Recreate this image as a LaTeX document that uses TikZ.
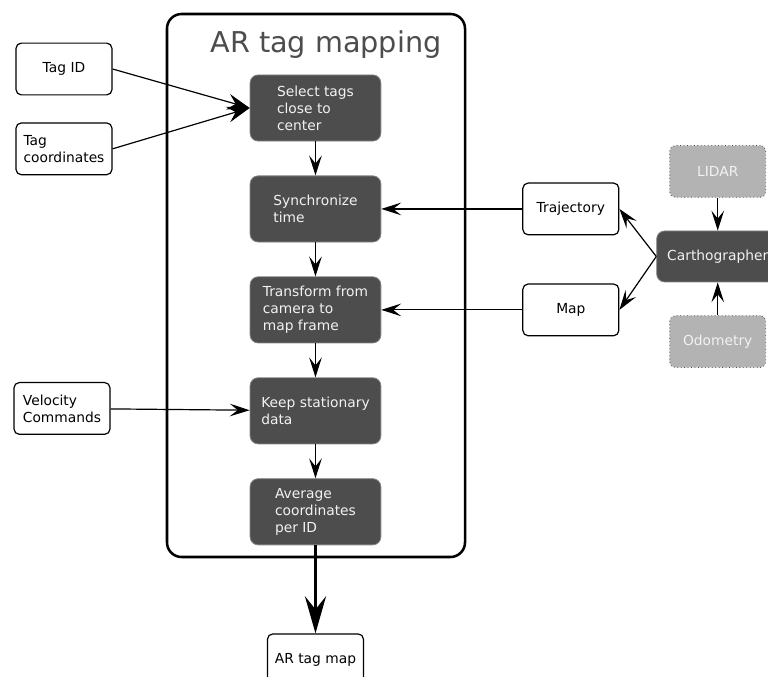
\documentclass[tikz,border=0pt]{standalone}
\usepackage{fontspec}
\setmainfont{DejaVu Sans}
\usetikzlibrary{arrows.meta, positioning}
\definecolor{cdark}{HTML}{4D4D4D}
\definecolor{cedge}{HTML}{858585}
\definecolor{clight}{HTML}{B3B3B3}
\definecolor{ctext}{HTML}{F2F2F2}
\tikzset{
  every picture/.style={font=\fontsize{10.4}{12.75}\selectfont, line width=0.9pt},
  inbox/.style={draw=black, fill=white, rounded corners=4pt, align=left, inner sep=2pt, minimum width=2.54cm, minimum height=1.37cm},
  stepbox/.style={draw=cedge, line width=0.6pt, fill=cdark, text=ctext, rounded corners=6pt, align=left, minimum width=3.46cm, minimum height=1.75cm},
  sensor/.style={draw=cdark, line width=0.6pt, dotted, fill=clight, text=ctext, rounded corners=4pt, minimum width=2.54cm, minimum height=1.37cm},
  arrow/.style={-{Stealth[length=15pt, width=9.5pt, inset=6pt]}, draw=black, line width=0.9pt},
  inarrow/.style={-{Stealth[length=17pt, width=12pt, inset=6pt]}, draw=black, line width=0.9pt},
  outarrow/.style={-{Stealth[length=28pt, width=16pt, inset=10pt]}, draw=black, line width=1.9pt},
  title/.style={font=\fontsize{21.6}{26}\selectfont, text=cdark},
}
\begin{document}
\begin{tikzpicture}[node distance=0.9cm]
  \useasboundingbox (0,0) rectangle (20.32,-17.91);
  % mapping block
  \node[draw, line width=1.9pt, rounded corners=11pt, minimum width=7.885cm, minimum height=14.367cm] (frame) at (8.361,-7.554) {};
  \node[title, anchor=base] (head) at (8.625,-1.376) {AR tag mapping};
  \node[stepbox] (select) at (8.347,-2.857) {Select tags\\close to\\center};
  \node[stepbox, below=of select] (sync) {Synchronize\\time};
  \node[stepbox, below=of sync] (transform) {Transform from\\camera to\\map frame};
  \node[stepbox, below=of transform] (keep) {Keep stationary\\data};
  \node[stepbox, below=of keep] (avg) {Average\\coordinates\\per ID};
  \draw[arrow] (select) -- (sync); \draw[arrow] (sync) -- (transform);
  \draw[arrow] (transform) -- (keep); \draw[arrow] (keep) -- (avg);
  % inputs on the left
  \node[inbox] (tagid) at (1.693,-1.826) {Tag ID};
  \node[inbox, below=0.71cm of tagid] (tagxy) {Tag\\coordinates};
  \node[inbox] (vel) at (1.64,-10.807) {Velocity\\Commands};
  \draw[inarrow] (tagid.east) -- (select.west);
  \draw[inarrow] (tagxy.east) -- (select.west);
  \draw[arrow] (vel) -- (keep);
  % mapping on the right
  \node[inbox, align=center, right=3.73cm of sync] (traj) {Trajectory};
  \node[inbox, align=center, right=3.73cm of transform] (map) {Map};
  \node[stepbox, align=center, minimum width=3.23cm, minimum height=1.35cm] (carto) at (18.99,-6.786) {Carthographer};
  \node[sensor, above=0.87cm of carto] (lidar) {LIDAR};
  \node[sensor, below=0.87cm of carto] (odom) {Odometry};
  \draw[arrow] (lidar) -- (carto); \draw[arrow] (odom) -- (carto);
  \draw[arrow] (carto.west) -- (traj.east); \draw[arrow] (carto.west) -- (map.east);
  \draw[arrow] (traj) -- (sync); \draw[arrow] (map) -- (transform);
  % output
  \node[inbox, align=center, below=2.33cm of avg] (armap) {AR tag map};
  \draw[outarrow] (avg) -- (armap);
\end{tikzpicture}
\end{document}
